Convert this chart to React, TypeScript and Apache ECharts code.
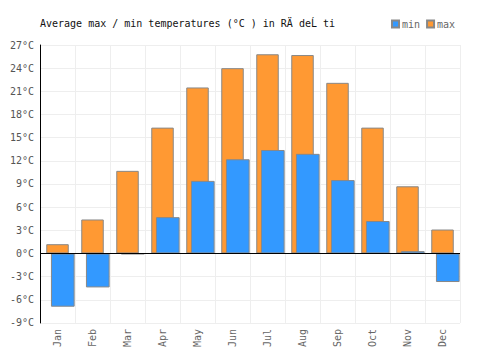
import React, { useEffect, useRef } from "react";
import * as echarts from "echarts";

const months = ["Jan", "Feb", "Mar", "Apr", "May", "Jun", "Jul", "Aug", "Sep", "Oct", "Nov", "Dec"];
const maxTemps = [1.2, 4.4, 10.7, 16.3, 21.5, 24.0, 25.8, 25.7, 22.1, 16.3, 8.7, 3.1];
const minTemps = [-6.9, -4.4, -0.1, 4.7, 9.4, 12.2, 13.4, 12.9, 9.5, 4.2, 0.3, -3.7];
const titleText = "Average max / min temperatures (°C ) in RÄ deĹ ti";

const FONT = "DejaVu Sans Mono";

export default function App() {
  const ref = useRef<HTMLDivElement>(null);
  useEffect(() => {
    document.body.style.margin = "0";
    if (!ref.current) return;
    const chart = echarts.init(ref.current, undefined, { renderer: "svg" });
    chart.setOption({
      animation: false,
      backgroundColor: "#fff",
      title: {
        text: titleText,
        left: 35,
        top: 13,
        textStyle: { fontFamily: FONT, fontSize: 10, fontWeight: "normal", color: "#111" },
      },
      legend: {
        data: ["min", "max"],
        left: 386,
        top: 14,
        icon: "rect",
        itemWidth: 7,
        itemHeight: 7,
        itemGap: 6,
        textStyle: { fontFamily: FONT, fontSize: 10, color: "#666", padding: [0, 0, 0, -2] },
      },
      grid: { left: 40, right: 40, top: 45, bottom: 25, containLabel: false },
      xAxis: [
        {
          type: "category",
          data: months,
          position: "bottom",
          axisLine: { show: false, onZero: false },
          axisTick: { show: false },
          axisLabel: { rotate: 90, margin: 6, fontFamily: FONT, fontSize: 10, color: "#666" },
          splitLine: { show: true, lineStyle: { color: "#eeeeee", width: 1 } },
        },
        {
          type: "category",
          data: months,
          show: false,
        },
      ],
      yAxis: {
        type: "value",
        min: -9,
        max: 27,
        interval: 3,
        axisLine: { show: true, lineStyle: { color: "#000", width: 1 } },
        axisTick: { show: false },
        axisLabel: { formatter: "{value}°C", fontFamily: FONT, fontSize: 10, color: "#555", margin: 6 },
        splitLine: { show: true, lineStyle: { color: "#eeeeee", width: 1 } },
      },
      series: [
        {
          name: "max",
          type: "bar",
          xAxisIndex: 0,
          data: maxTemps,
          barWidth: 22.5,
          itemStyle: { color: "#ff9933", borderColor: "#888888", borderWidth: 1 },
          markLine: {
            silent: true,
            symbol: "none",
            label: { show: false },
            lineStyle: { color: "#000", width: 1, type: "solid" },
            data: [{ yAxis: 0 }],
            z: 10,
          },
        },
        {
          name: "spacer",
          type: "bar",
          xAxisIndex: 1,
          data: months.map(() => null),
          barWidth: 10.6,
          barGap: "0%",
        },
        {
          name: "min",
          type: "bar",
          xAxisIndex: 1,
          data: minTemps,
          barWidth: 23.7,
          barGap: "0%",
          itemStyle: { color: "#3399ff", borderColor: "#888888", borderWidth: 1 },
        },
      ],
    });
    return () => chart.dispose();
  }, []);
  return <div ref={ref} style={{ width: 500, height: 350 }} />;
}
